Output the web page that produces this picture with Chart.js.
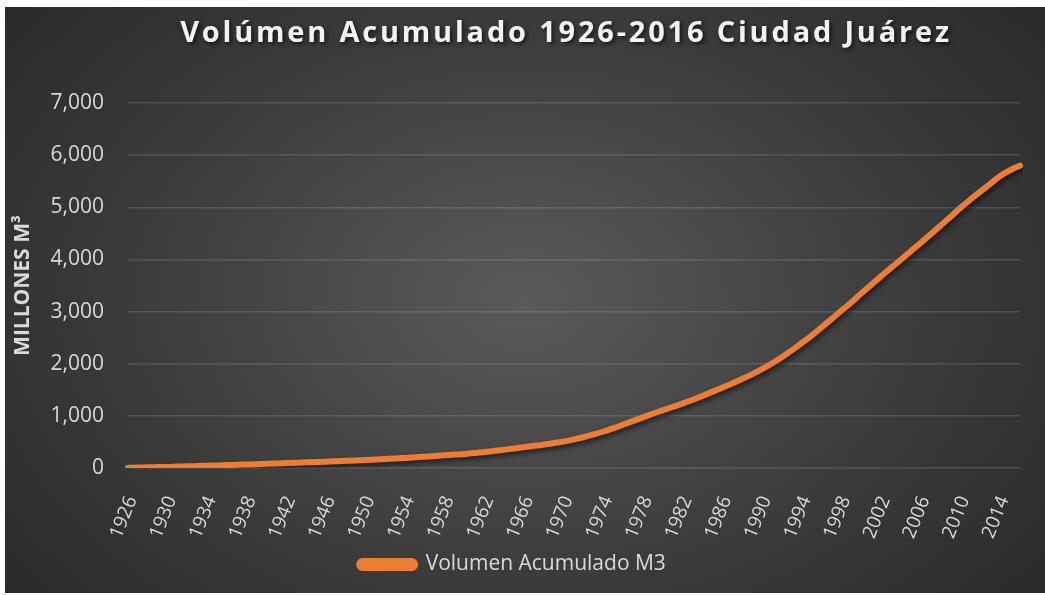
<!DOCTYPE html>
<html>
<head>
<meta charset="utf-8">
<script src="https://cdn.jsdelivr.net/npm/chart.js@4.4.1/dist/chart.umd.min.js"></script>
<style>
    html, body { margin: 0; padding: 0; background: #ffffff; }
    .chart-box {
        position: absolute;
        left: 5px;
        top: 7px;
        width: 1040px;
        height: 586px;
        background: radial-gradient(ellipse 72% 90% at 50% 50%, #5a5a5a 0%, #3a3a3a 55%, #252525 100%);
    }
</style>
</head>
<body>
<div class="chart-box"><canvas id="volChart" width="1040" height="586"></canvas></div>
<script>
const chartTitle = 'Volúmen Acumulado 1926-2016 Ciudad Juárez';
const seriesName = 'Volumen Acumulado M3';
const yTickValues = [0, 1000, 2000, 3000, 4000, 5000, 6000, 7000];

const years = [];
for (let y = 1926; y <= 2016; y++) years.push(String(y));

// millones de m3
const volumen = [
    5, 9, 13, 17, 21, 27, 32, 38, 44, 50,                 // 1926-1935
    56, 62, 68, 74, 80, 87, 94, 101, 108, 115,            // 1936-1945
    122, 129, 137, 145, 153, 163, 173, 183, 194, 205,     // 1946-1955
    218, 231, 244, 257, 270, 288, 308, 330, 352, 375,     // 1956-1965
    400, 425, 450, 478, 510, 550, 595, 645, 700, 765,     // 1966-1975
    835, 905, 975, 1045, 1110, 1175, 1240, 1310, 1385, 1465, // 1976-1985
    1545, 1625, 1710, 1800, 1900, 2010, 2130, 2260, 2400, 2545, // 1986-1995
    2700, 2860, 3020, 3180, 3350, 3515, 3680, 3840, 4000, 4160, // 1996-2005
    4320, 4485, 4650, 4820, 4990, 5150, 5300, 5450, 5600, 5710, // 2006-2015
    5800                                                   // 2016
];

const orange = '#ED7D31';
const textColor = '#d9d9d9';
Chart.defaults.font.family = '"Open Sans", "Noto Sans", sans-serif';
Chart.defaults.color = textColor;

// titulo con espaciado y sombra
const titlePlugin = {
    id: 'shadowTitle',
    afterDraw(chart) {
        const ctx = chart.ctx;
        const area = chart.chartArea;
        ctx.save();
        ctx.font = 'bold 29px "Open Sans", sans-serif';
        ctx.letterSpacing = '2.8px';
        ctx.fillStyle = '#f2f2f2';
        ctx.textAlign = 'center';
        ctx.textBaseline = 'middle';
        ctx.shadowColor = 'rgba(0, 0, 0, 0.65)';
        ctx.shadowBlur = 4;
        ctx.shadowOffsetX = 2;
        ctx.shadowOffsetY = 2;
        ctx.fillText(chartTitle, (area.left + area.right) / 2 - 8, 27);
        ctx.restore();
    },
};

// sombra de la linea
const lineShadow = {
    id: 'lineShadow',
    beforeDatasetsDraw(chart) {
        const ctx = chart.ctx;
        ctx.save();
        ctx.shadowColor = 'rgba(0, 0, 0, 0.55)';
        ctx.shadowBlur = 5;
        ctx.shadowOffsetX = 2;
        ctx.shadowOffsetY = 3;
    },
    afterDatasetsDraw(chart) {
        chart.ctx.restore();
    },
};

const volChart = new Chart(document.querySelector('#volChart'), {
    type: 'line',
    data: {
        labels: years,
        datasets: [
            {
                label: seriesName,
                data: volumen,
                borderColor: orange,
                backgroundColor: orange,
                borderWidth: 6,
                borderCapStyle: 'round',
                borderJoinStyle: 'round',
                pointRadius: 0,
                cubicInterpolationMode: 'monotone',
                fill: false,
            },
        ],
    },
    options: {
        responsive: false,
        animation: false,
        layout: {
            padding: { top: 96, right: 25, bottom: 8, left: 0 },
        },
        scales: {
            x: {
                offset: false,
                grid: { display: false, drawTicks: false },
                border: { display: false },
                ticks: {
                    autoSkip: false,
                    maxRotation: 68,
                    minRotation: 68,
                    padding: 25,
                    labelOffset: 4,
                    color: textColor,
                    font: { size: 19 },
                    callback: function (val, index) {
                        return index % 4 === 0 ? this.getLabelForValue(val) : '';
                    },
                },
                afterFit: (scale) => {
                    scale.height = 76;
                    scale.paddingLeft = 0;
                    scale.paddingRight = 0;
                },
            },
            y: {
                min: 0,
                max: 7000,
                afterBuildTicks: (scale) => {
                    scale.ticks = yTickValues.map((v) => ({ value: v }));
                },
                grid: { color: 'rgba(255, 255, 255, 0.13)', lineWidth: 1.5, drawTicks: false },
                border: { display: false },
                ticks: {
                    padding: 24,
                    color: textColor,
                    font: { size: 21 },
                    callback: (v) => v.toLocaleString('en-US'),
                },
                title: {
                    display: true,
                    text: 'MILLONES M³',
                    color: textColor,
                    font: { size: 21, weight: 'bold' },
                    padding: { top: 5, bottom: 0 },
                },
                afterFit: (scale) => {
                    scale.width = 123;
                    scale.paddingTop = 0;
                    scale.paddingBottom = 0;
                },
            },
        },
        plugins: {
            title: { display: false },
            tooltip: { enabled: false },
            legend: {
                position: 'bottom',
                labels: {
                    color: textColor,
                    font: { size: 21 },
                    boxWidth: 56,
                    boxHeight: 7,
                    useBorderRadius: true,
                    borderRadius: 3.5,
                    padding: 10,
                },
            },
        },
    },
    plugins: [titlePlugin, lineShadow],
});
</script>
</body>
</html>
